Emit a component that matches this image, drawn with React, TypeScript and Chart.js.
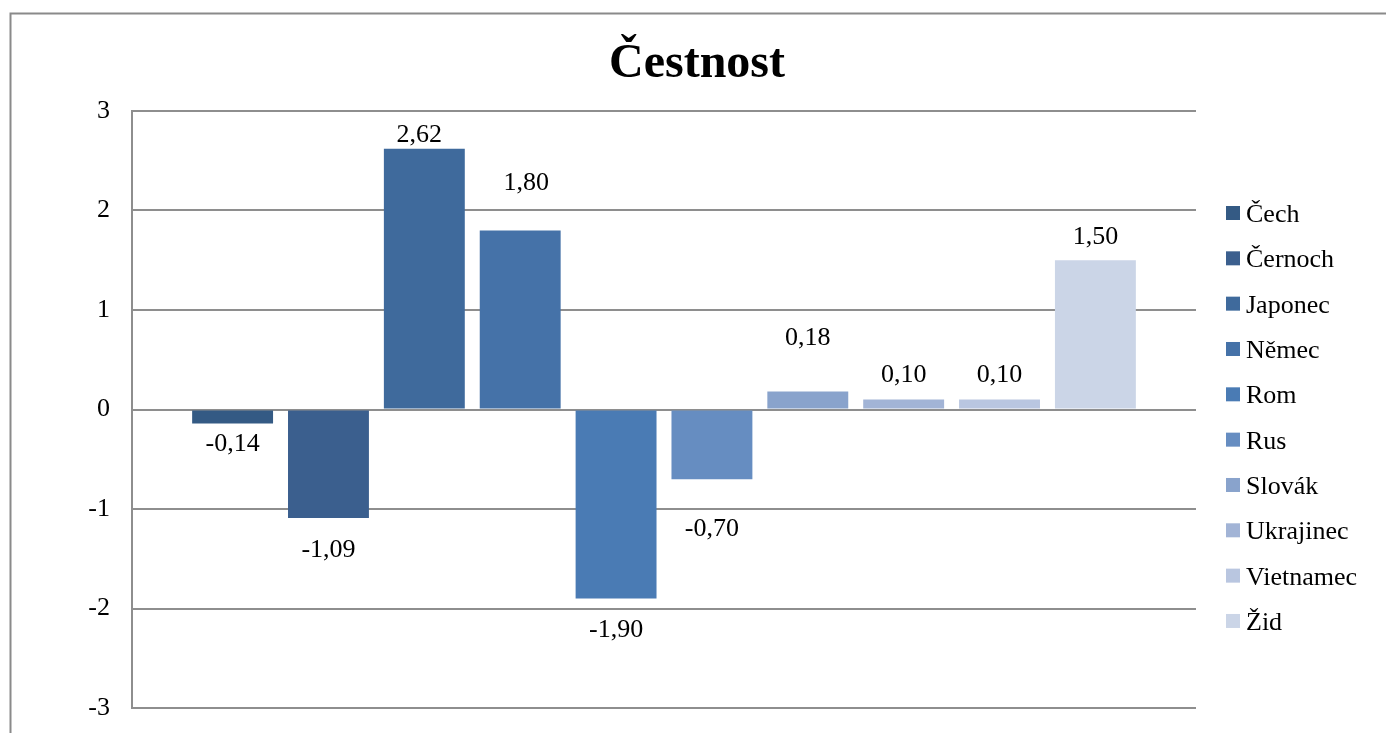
import React, { useEffect, useRef } from "react";
import { Chart, registerables } from "chart.js";

Chart.register(...registerables);

// Series (one bar per group) and their values
const seriesNames = [
  "Čech",
  "Černoch",
  "Japonec",
  "Němec",
  "Rom",
  "Rus",
  "Slovák",
  "Ukrajinec",
  "Vietnamec",
  "Žid",
];
const seriesValues = [-0.14, -1.09, 2.62, 1.8, -1.9, -0.7, 0.18, 0.1, 0.1, 1.5];
const categories = [""];
const yTicks = [-3, -2, -1, 0, 1, 2, 3];
const titleText = "Čestnost";

// Styling
const seriesColors = [
  "#345a84",
  "#3b5f8e",
  "#3f6a9c",
  "#4572a8",
  "#4a7bb4",
  "#668dc1",
  "#89a3cc",
  "#a2b4d6",
  "#b9c6e0",
  "#cbd5e7",
];
// Label placement: [horizontal shift, distance beyond the bar end] in px
const labelOffsets: [number, number][] = [
  [0, 19],
  [0, 30],
  [-5, 16],
  [6, 49],
  [0, 29],
  [0, 48],
  [0, 56],
  [0, 27],
  [0, 27],
  [0, 25],
];

const SERIF = "'Liberation Serif', 'Times New Roman', serif";
const LINE = "#8e8e8e";
const TEXT_SIZE = 26;

const fmt = (v: number) => v.toFixed(2).replace(".", ",");

const framePlugin = {
  id: "frame",
  beforeDraw(chart: any) {
    const ctx = chart.ctx;
    ctx.save();
    ctx.fillStyle = "#ffffff";
    ctx.fillRect(0, 0, chart.width, chart.height);
    ctx.strokeStyle = "#8a8a8a";
    ctx.lineWidth = 2;
    ctx.beginPath();
    ctx.moveTo(10.5, chart.height + 5);
    ctx.lineTo(10.5, 13.5);
    ctx.lineTo(chart.width + 5, 13.5);
    ctx.stroke();
    ctx.restore();
  },
};

const decorPlugin = {
  id: "decor",
  afterDraw(chart: any) {
    const ctx = chart.ctx;
    ctx.save();

    // Title
    ctx.fillStyle = "#000000";
    ctx.font = `bold 48px ${SERIF}`;
    ctx.textAlign = "center";
    ctx.textBaseline = "alphabetic";
    ctx.fillText(titleText, 697, 77);

    // Value labels
    ctx.font = `${TEXT_SIZE}px ${SERIF}`;
    chart.data.datasets.forEach((ds: any, i: number) => {
      const meta = chart.getDatasetMeta(i);
      const bar = meta.data[0];
      if (!bar) return;
      const v = ds.data[0] as number;
      const [dx, dy] = labelOffsets[i];
      const cy = v >= 0 ? bar.y - dy : bar.y + dy;
      ctx.fillText(fmt(v), bar.x + dx, cy + 9);
    });

    // Legend
    ctx.textAlign = "left";
    chart.data.datasets.forEach((ds: any, i: number) => {
      const cy = 213 + i * 45.33;
      ctx.fillStyle = ds.backgroundColor;
      ctx.fillRect(1226, cy - 7, 14, 14);
      ctx.fillStyle = "#000000";
      ctx.fillText(ds.label, 1246, cy + 9);
    });

    ctx.restore();
  },
};

export default function App() {
  const canvasRef = useRef<HTMLCanvasElement | null>(null);

  useEffect(() => {
    if (!canvasRef.current) return;
    const chart = new Chart(canvasRef.current, {
      type: "bar",
      data: {
        labels: categories,
        datasets: seriesNames.map((name, i) => ({
          label: name,
          data: [seriesValues[i]],
          backgroundColor: seriesColors[i],
          borderWidth: 0,
          categoryPercentage: 0.901,
          barPercentage: 0.844,
        })),
      },
      options: {
        animation: false,
        responsive: true,
        maintainAspectRatio: false,
        layout: { padding: { top: 111, right: 190, bottom: 25, left: 0 } },
        plugins: {
          legend: { display: false },
          title: { display: false },
          tooltip: { enabled: false },
        },
        scales: {
          x: { display: false },
          y: {
            min: -3,
            max: 3,
            afterFit(scale: any) {
              scale.width = 132;
              scale.paddingTop = 0;
              scale.paddingBottom = 0;
            },
            afterBuildTicks(scale: any) {
              scale.ticks = yTicks.map((v) => ({ value: v }));
            },
            ticks: {
              padding: 22,
              color: "#000000",
              font: { family: SERIF, size: TEXT_SIZE },
            },
            grid: {
              color: LINE,
              lineWidth: 2,
              drawTicks: false,
            },
            border: { display: true, color: LINE, width: 2 },
          },
        },
      },
      plugins: [framePlugin, decorPlugin],
    });
    return () => chart.destroy();
  }, []);

  return (
    <div
      style={{
        position: "fixed",
        left: 0,
        top: 0,
        width: "1386px",
        height: "733px",
        background: "#ffffff",
      }}
    >
      <canvas ref={canvasRef} />
    </div>
  );
}
